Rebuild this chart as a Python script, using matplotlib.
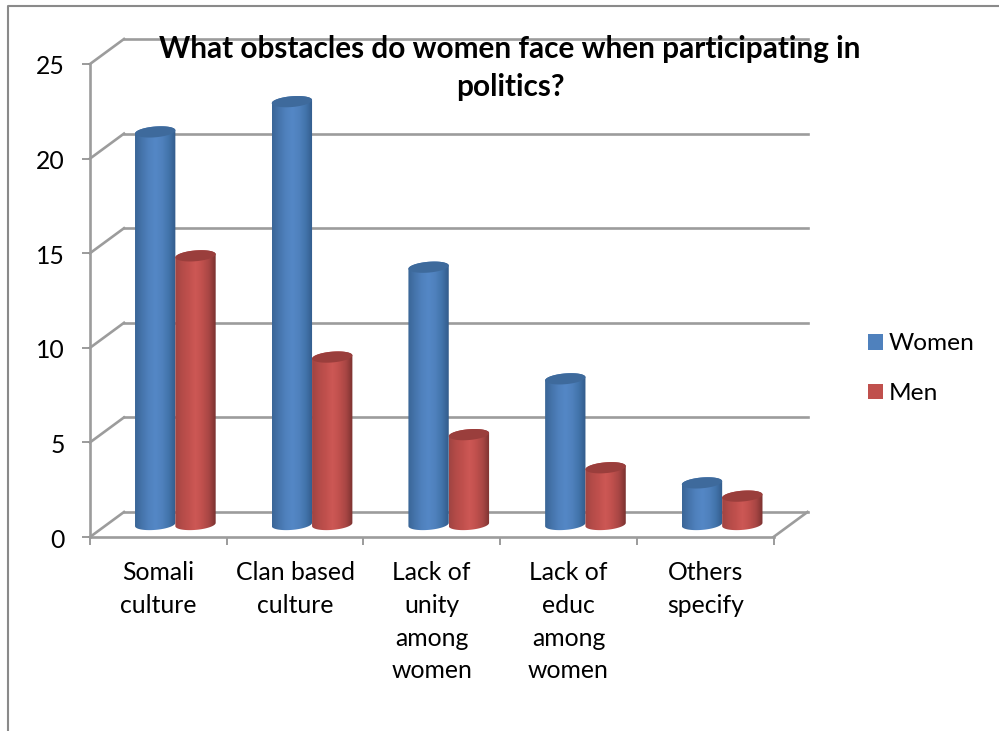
import numpy as np
import matplotlib
matplotlib.use("Agg")
import matplotlib.pyplot as plt
from matplotlib.lines import Line2D
from matplotlib.patches import PathPatch, Patch
from matplotlib.path import Path
from matplotlib.colors import LinearSegmentedColormap
from matplotlib.transforms import Affine2D, IdentityTransform

categories = ["Somali\nculture", "Clan based\nculture", "Lack of\nunity\namong\nwomen",
              "Lack of\neduc\namong\nwomen", "Others\nspecify"]
women = [20.75, 22.35, 13.6, 7.7, 2.2]
men = [14.2, 8.85, 4.75, 3.0, 1.5]
y_ticks = [0, 5, 10, 15, 20, 25]
title = "What obstacles do women face when participating in\npolitics?"

W, H = 999, 731
GRID = "#9c9c9c"
TEXT = "#000000"
DEPTH_X, DEPTH_Y = 34, 25  # shift of the back wall, in pixels
BAR_W = 0.295

plt.rcParams["font.family"] = ["Lato", "DejaVu Sans"]

fig = plt.figure(figsize=(W / 100, H / 100), dpi=100)
ax = fig.add_axes([90 / W, 1 - 537 / H, (773.5 - 90) / W, (537 - 64) / H])
ax.set_xlim(0, 5)
ax.set_ylim(0, 25)
ax.patch.set_visible(False)

# outer chart border, only the left and top edges show
fig.add_artist(Line2D([8 / W, 8 / W, 1], [0, 1 - 6 / H, 1 - 6 / H], color="#8a8a8a", lw=1.5))

# back wall and side wall grid
back = Affine2D().translate(DEPTH_X, DEPTH_Y)
for t in y_ticks:
    ax.plot([0, 5], [t, t], transform=ax.transData + back, color=GRID, lw=1.9, clip_on=False, zorder=1)
    p0 = ax.transData.transform((0, t))
    ax.add_line(Line2D([p0[0], p0[0] + DEPTH_X], [p0[1], p0[1] + DEPTH_Y], transform=IdentityTransform(),
                       color=GRID, lw=1.9, clip_on=False, zorder=1))
p1 = ax.transData.transform((5, 0))
ax.add_line(Line2D([p1[0], p1[0] + DEPTH_X], [p1[1], p1[1] + DEPTH_Y], transform=IdentityTransform(),
                   color=GRID, lw=1.9, clip_on=False, zorder=1))

blue_map = LinearSegmentedColormap.from_list("blue", ["#3a6696", "#4574ab", "#4f81bd", "#5487c6", "#4f81bd", "#4273aa", "#325b8a"])
red_map = LinearSegmentedColormap.from_list("red", ["#a04442", "#b44b48", "#c0504d", "#cd5855", "#c0504d", "#a84644", "#7a3230"])
gradient = np.linspace(0, 1, 128).reshape(1, -1)


def cylinder(x0, value, cmap, top_color, zorder):
    # the round body is a gradient image clipped to an outline, the lid an ellipse on top
    x_l, y_b = ax.transData.transform((x0, 0))
    x_r, y_t = ax.transData.transform((x0 + BAR_W, value))
    x_l += DEPTH_X / 2
    x_r += DEPTH_X / 2
    y_b += DEPTH_Y / 2
    y_t += DEPTH_Y / 2
    rx = (x_r - x_l) / 2
    ry = 5.4
    tilt = 0.08
    cx = (x_l + x_r) / 2
    th = np.linspace(0, np.pi, 40)
    lower_x = cx - rx * np.cos(th)
    lower = -ry * np.sin(th) + tilt * (lower_x - cx)
    upper_x = cx + rx * np.cos(th)
    upper = ry * np.sin(th) + tilt * (upper_x - cx)

    body = np.vstack([np.column_stack([lower_x, y_b + lower]),
                      np.column_stack([upper_x[:1], y_t + upper[:1]]),
                      np.column_stack([upper_x, y_t + upper])])
    outline = PathPatch(Path(np.vstack([body, body[:1]])), transform=IdentityTransform(),
                        facecolor="none", edgecolor="none", zorder=zorder)
    ax.add_patch(outline)
    im = ax.imshow(gradient, cmap=cmap, aspect="auto", extent=(x_l, x_r, y_b - 10, y_t + 10),
                   transform=IdentityTransform(), zorder=zorder, interpolation="bilinear")
    im.set_clip_path(outline)

    lid_x = np.concatenate([upper_x, lower_x])
    lid_y = np.concatenate([upper, lower]) + y_t
    ax.add_patch(PathPatch(Path(np.column_stack([lid_x, lid_y])), transform=IdentityTransform(),
                           facecolor=top_color, edgecolor="none", clip_on=False, zorder=zorder + 0.1))


for i in range(len(categories)):
    left = i + 0.5 - BAR_W
    cylinder(left, women[i], blue_map, "#3e6a9c", 3 + i)
    cylinder(left + BAR_W, men[i], red_map, "#9a3e3c", 3.5 + i)

ax.set_xlim(0, 5)
ax.set_ylim(0, 25)

# front axes
for side in ["top", "right"]:
    ax.spines[side].set_visible(False)
for side in ["left", "bottom"]:
    ax.spines[side].set_color(GRID)
    ax.spines[side].set_linewidth(1.9)
    ax.spines[side].set_zorder(2)
ax.set_yticks(y_ticks)
ax.set_xticks(np.arange(6))
ax.set_xticklabels([])
ax.set_xticks(np.arange(5) + 0.5, categories, minor=True, linespacing=1.51)
ax.tick_params(axis="x", which="major", length=6, width=1.2, color="#8a8a8a")
ax.tick_params(axis="x", which="minor", length=0, pad=17.5, labelsize=17.8, labelcolor=TEXT)
ax.tick_params(axis="y", length=6, width=1.2, color="#8a8a8a", labelsize=17.8, labelcolor=TEXT, pad=12)
for tick in ax.yaxis.get_major_ticks():
    tick.label1.set_transform(tick.label1.get_transform() + Affine2D().translate(0, -1))

fig.text(510 / W, 1 - 68 / H, title, ha="center", va="center", fontsize=21.4, fontweight="bold",
         color=TEXT, linespacing=1.42, zorder=20)

handles = [Patch(facecolor="#4f81bd", label="Women"), Patch(facecolor="#c0504d", label="Men")]
fig.legend(handles=handles, loc="upper left", bbox_to_anchor=(861 / W, 1 - 326 / H), frameon=False,
           fontsize=17.6, handlelength=0.62, handleheight=0.62, handletextpad=0.22, labelspacing=1.18,
           borderpad=0.3, borderaxespad=0)

fig.savefig("out.png", dpi=100)
